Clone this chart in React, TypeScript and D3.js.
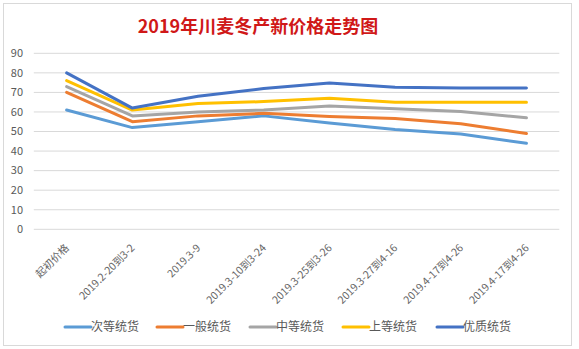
import React from "react";
import * as d3 from "d3";

const categories = [
  "起初价格",
  "2019.2-20到3-2",
  "2019.3-9",
  "2019.3-10到3-24",
  "2019.3-25到3-26",
  "2019.3-27到4-16",
  "2019.4-17到4-26",
  "2019.4-17到4-26",
];
const seriesNames = ["次等统货", "一般统货", "中等统货", "上等统货", "优质统货"];
const ciDeng = [61, 52, 55, 58, 54.3, 51, 48.7, 44];
const yiBan = [70, 55, 58, 59.3, 57.7, 56.6, 54, 49];
const zhongDeng = [73, 58, 60, 61, 63, 61.7, 60.2, 57];
const shangDeng = [76, 61, 64.3, 65.3, 67, 65, 65, 65];
const youZhi = [80, 62, 68, 72, 74.8, 72.6, 72.3, 72.2];
const yTicks = [0, 10, 20, 30, 40, 50, 60, 70, 80, 90];
const colors = ["#5B9BD5", "#ED7D31", "#A5A5A5", "#FFC000", "#4472C4"];

const W = 579;
const H = 349;
const font = "'Noto Sans CJK SC', 'DejaVu Sans', sans-serif";

export default function App() {
  const series = [ciDeng, yiBan, zhongDeng, shangDeng, youZhi];
  const x = d3.scaleBand<number>().domain(d3.range(categories.length)).range([33.8, 559.3]);
  const y = d3.scaleLinear().domain([0, 90]).range([229.3, 53.3]);
  const cx = (i: number) => (x(i) as number) + x.bandwidth() / 2;
  const line = d3
    .line<number>()
    .x((_, i) => cx(i))
    .y((d) => y(d));
  const legendX = [65, 157, 250, 343, 437];

  return (
    <svg
      width={W}
      height={H}
      style={{ position: "absolute", left: 0, top: 0, background: "#fff" }}
      fontFamily={font}
    >
      <rect x={3.5} y={3.5} width={568} height={342} fill="#fff" stroke="#D9D9D9" />
      <text x={258} y={33} textAnchor="middle" fill="#D01818" fontSize={18} fontWeight="bold">
        2019年川麦冬产新价格走势图
      </text>
      {yTicks.map((t) => (
        <g key={t}>
          <line x1={33.8} x2={559.3} y1={y(t)} y2={y(t)} stroke="#D9D9D9" strokeWidth={1} />
          <text x={23} y={y(t)} dy="0.35em" textAnchor="end" fontSize={11} fill="#595959">
            {t}
          </text>
        </g>
      ))}
      {categories.map((c, i) => (
        <text
          key={i}
          transform={`translate(${cx(i) + 0.5},${246}) rotate(-45)`}
          textAnchor="end"
          dy="0.35em"
          fontSize={10.5}
          fill="#666666"
        >
          {c}
        </text>
      ))}
      {series.map((s, k) => (
        <path
          key={k}
          d={line(s) || ""}
          fill="none"
          stroke={colors[k]}
          strokeWidth={3}
          strokeLinejoin="round"
          strokeLinecap="round"
        />
      ))}
      {seriesNames.map((n, k) => (
        <g key={n}>
          <line
            x1={legendX[k]}
            x2={legendX[k] + 26}
            y1={327}
            y2={327}
            stroke={colors[k]}
            strokeWidth={3}
            strokeLinecap="round"
          />
          <text x={legendX[k] + 26} y={327} dy="0.35em" fontSize={12} fill="#595959">
            {n}
          </text>
        </g>
      ))}
    </svg>
  );
}
